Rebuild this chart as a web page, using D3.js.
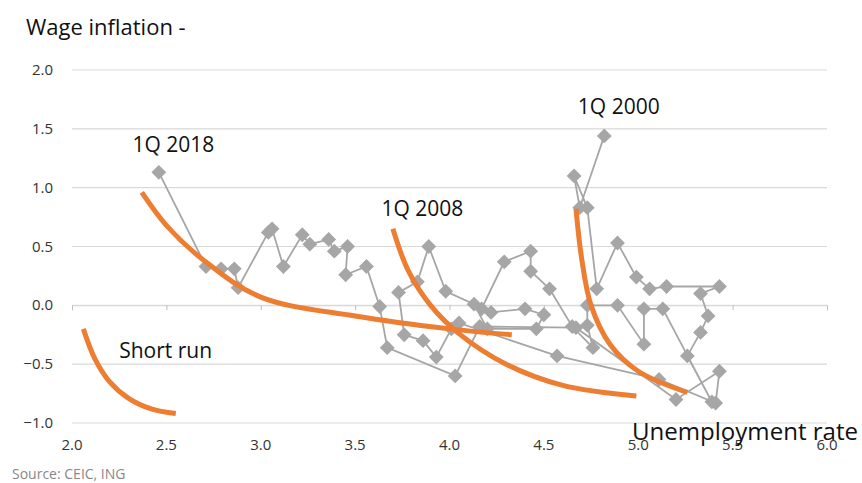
<!DOCTYPE html>
<html>
<head>
<meta charset="utf-8">
<script src="https://cdn.jsdelivr.net/npm/d3@7"></script>
<style>
body { margin: 0; background: #fff; }
text { font-family: "Open Sans", "Noto Sans", sans-serif; }
</style>
</head>
<body>
<div id="chart"></div>
<script>
// unemployment rate (x) and wage inflation (y), quarterly path 1Q 2000 -> 1Q 2018
var unemp = [4.82,4.69,4.66,4.73,4.78,4.89,4.99,5.06,5.15,5.43,5.33,5.37,5.33,5.26,5.39,5.13,
  5.03,5.03,4.89,4.73,4.73,4.76,4.65,4.53,4.43,4.43,4.29,4.17,4.22,4.40,4.50,4.46,4.20,4.13,
  3.98,3.89,3.83,3.73,3.76,3.86,3.93,4.01,4.05,4.57,5.11,5.41,5.43,5.20,4.67,4.16,4.03,3.67,
  3.63,3.56,3.45,3.46,3.39,3.36,3.26,3.22,3.12,3.06,3.04,2.88,2.86,2.79,2.71,2.46];
var wage = [1.44,0.83,1.10,0.83,0.14,0.53,0.24,0.14,0.16,0.16,0.10,-0.09,-0.23,-0.43,-0.82,-0.03,
  -0.03,-0.33,0.00,0.00,-0.17,-0.36,-0.18,0.14,0.29,0.46,0.37,-0.03,-0.06,-0.03,-0.08,-0.20,-0.20,0.01,
  0.12,0.50,0.20,0.11,-0.25,-0.30,-0.44,-0.20,-0.15,-0.43,-0.63,-0.83,-0.56,-0.80,-0.19,-0.18,-0.60,-0.36,
  -0.01,0.33,0.26,0.50,0.46,0.56,0.52,0.60,0.33,0.65,0.62,0.15,0.31,0.31,0.33,1.13];

// Phillips curves (orange)
var curveShort = [[2.06,-0.20],[2.12,-0.45],[2.20,-0.65],[2.30,-0.79],[2.42,-0.88],[2.55,-0.92]];
var curve2018 = [[2.37,0.96],[2.50,0.68],[2.70,0.38],[3.00,0.07],[3.50,-0.09],[4.00,-0.20],[4.33,-0.25]];
var curve2008 = [[3.70,0.65],[3.78,0.30],[3.90,0.00],[4.05,-0.24],[4.30,-0.50],[4.60,-0.68],[4.99,-0.77]];
var curve2000 = [[4.67,0.82],[4.70,0.40],[4.75,0.00],[4.85,-0.33],[5.00,-0.56],[5.26,-0.74]];

var xTicks = [2.0,2.5,3.0,3.5,4.0,4.5,5.0,5.5,6.0];
var yTicks = [2.0,1.5,1.0,0.5,0.0,-0.5,-1.0];

var labels = [
  {text: "1Q 2018", x: 2.32, y: 1.30},
  {text: "1Q 2008", x: 3.64, y: 0.76},
  {text: "1Q 2000", x: 4.68, y: 1.63},
  {text: "Short run", x: 2.25, y: -0.45}
];

var W = 862, H = 483;
var margin = {top: 70, right: 35, bottom: 60, left: 72};
var width = W - margin.left - margin.right;
var height = H - margin.top - margin.bottom;

var svg = d3.select("#chart")
  .append("svg")
    .attr("width", W)
    .attr("height", H);

var g = svg.append("g")
  .attr("transform", "translate(" + margin.left + "," + margin.top + ")");

var x = d3.scaleLinear().domain([2, 6]).range([0, width]);
var y = d3.scaleLinear().domain([-1, 2]).range([height, 0]);

// gridlines
g.selectAll(".grid")
  .data(yTicks)
  .enter().append("line")
    .attr("x1", 0).attr("x2", width)
    .attr("y1", function(d) { return y(d); })
    .attr("y2", function(d) { return y(d); })
    .attr("stroke", "#d9d9d9")
    .attr("stroke-width", 1.2);

// y labels
g.selectAll(".ylab")
  .data(yTicks)
  .enter().append("text")
    .attr("x", -19)
    .attr("y", function(d) { return y(d) + 5; })
    .attr("text-anchor", "end")
    .attr("font-size", 15)
    .attr("fill", "#333")
    .text(function(d) { return d3.format(".1f")(d); });

// x axis at zero with ticks
var xAxis = g.append("g")
  .attr("transform", "translate(0," + y(0) + ")")
  .call(d3.axisBottom(x).tickValues(xTicks).tickSize(5).tickFormat(""));
xAxis.select(".domain").attr("stroke", "#d9d9d9");
xAxis.selectAll(".tick line").attr("stroke", "#bfbfbf");

// x labels below plot
g.selectAll(".xlab")
  .data(xTicks)
  .enter().append("text")
    .attr("x", function(d) { return x(d); })
    .attr("y", height + 27)
    .attr("text-anchor", "middle")
    .attr("font-size", 15)
    .attr("fill", "#333")
    .text(function(d) { return d3.format(".1f")(d); });

// grey path
var pts = unemp.map(function(u, i) { return [u, wage[i]]; });
g.append("path")
  .datum(pts)
  .attr("fill", "none")
  .attr("stroke", "#a6a6a6")
  .attr("stroke-width", 1.8)
  .attr("d", d3.line()
    .x(function(d) { return x(d[0]); })
    .y(function(d) { return y(d[1]); }));

var diamond = d3.symbol().type(d3.symbolSquare).size(110);
g.selectAll(".pt")
  .data(pts)
  .enter().append("path")
    .attr("d", diamond)
    .attr("transform", function(d) { return "translate(" + x(d[0]) + "," + y(d[1]) + ") rotate(45)"; })
    .attr("fill", "#a6a6a6");

// orange curves
var curveLine = d3.line()
  .x(function(d) { return x(d[0]); })
  .y(function(d) { return y(d[1]); })
  .curve(d3.curveCatmullRom);
[curveShort, curve2018, curve2008, curve2000].forEach(function(c) {
  g.append("path")
    .datum(c)
    .attr("fill", "none")
    .attr("stroke", "#ed7d31")
    .attr("stroke-width", 5)
    .attr("d", curveLine);
});

// annotations
g.selectAll(".ann")
  .data(labels)
  .enter().append("text")
    .attr("x", function(d) { return x(d.x); })
    .attr("y", function(d) { return y(d.y); })
    .attr("font-size", 21)
    .attr("fill", "#111")
    .text(function(d) { return d.text; });

svg.append("text")
  .attr("x", 858).attr("y", 440)
  .attr("text-anchor", "end")
  .attr("font-size", 23)
  .attr("fill", "#111")
  .attr("textLength", 226)
  .attr("lengthAdjust", "spacingAndGlyphs")
  .text("Unemployment rate");

svg.append("text")
  .attr("x", 26).attr("y", 35)
  .attr("font-size", 22)
  .attr("fill", "#111")
  .text("Wage inflation -");

svg.append("text")
  .attr("x", 12).attr("y", 479)
  .attr("font-size", 14)
  .attr("fill", "#888")
  .text("Source: CEIC, ING");
</script>
</body>
</html>
